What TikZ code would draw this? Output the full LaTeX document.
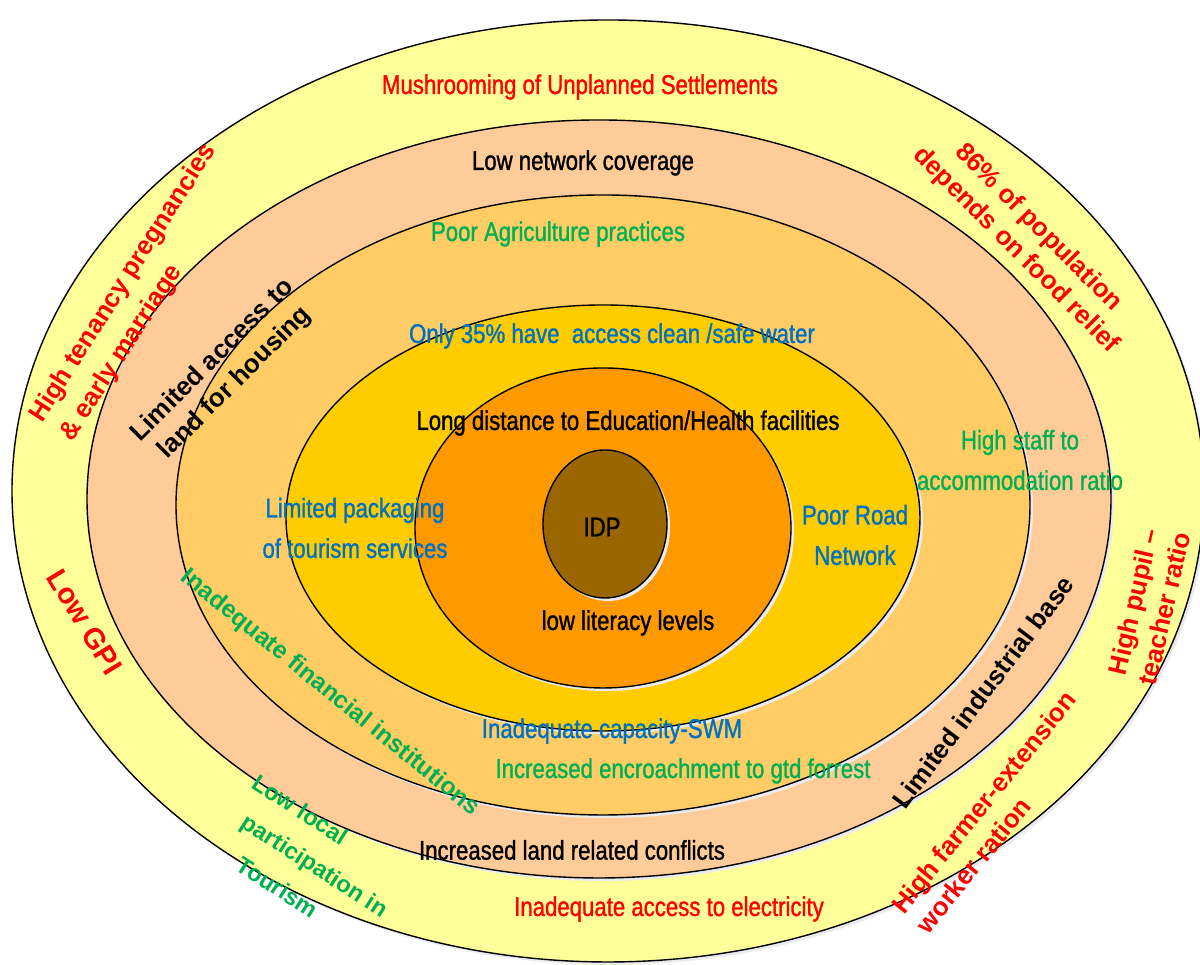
\documentclass[tikz,border=0pt]{standalone}
\usepackage{fontspec}
\setmainfont{Liberation Sans}
\newfontfamily\narrowfont[FakeStretch=0.82,FakeBold=1.2]{Liberation Sans}
\definecolor{bandyellow}{HTML}{FFFF99}
\definecolor{bandpeach}{HTML}{FFCC99}
\definecolor{bandlight}{HTML}{FFCC66}
\definecolor{bandgold}{HTML}{FFCC00}
\definecolor{bandorange}{HTML}{FF9900}
\definecolor{idpbrown}{HTML}{996600}
\definecolor{txtred}{HTML}{FF0000}
\definecolor{txtgreen}{HTML}{00B050}
\definecolor{txtblue}{HTML}{0070C0}

\begin{document}
\begin{tikzpicture}
\tikzstyle{ring}=[draw=black,line width=0.4pt]
\tikzstyle{ringshadow}=[fill=black!8]
\tikzstyle{flat}=[font=\narrowfont\fontsize{7.7}{11.5}\selectfont,align=center,inner sep=0pt]
\tikzstyle{tilted}=[font=\bfseries\fontsize{7.4}{9}\selectfont,align=center,inner sep=0pt]
\clip (0,0) rectangle (12.00,9.65);
\fill [white] (0,0) rectangle (12.00,9.65);
% rings, outside in
\fill [ringshadow] (6.11,4.71) ellipse (5.96 and 4.71);
\filldraw [ring,fill=bandyellow] (6.08,4.74) ellipse (5.96 and 4.71);
\fill [ringshadow] (6.02,4.63) ellipse (5.12 and 3.79);
\filldraw [ring,fill=bandpeach] (5.99,4.66) ellipse (5.12 and 3.79);
\fill [ringshadow] (6.06,4.57) ellipse (4.27 and 3.10);
\filldraw [ring,fill=bandlight] (6.03,4.60) ellipse (4.27 and 3.10);
\fill [ringshadow] (6.06,4.44) ellipse (3.17 and 2.13);
\filldraw [ring,fill=bandgold] (6.03,4.47) ellipse (3.17 and 2.13);
\fill [ringshadow] (6.06,4.34) ellipse (1.88 and 1.60);
\filldraw [ring,fill=bandorange] (6.03,4.37) ellipse (1.88 and 1.60);
\fill [ringshadow] (6.08,4.38) ellipse (0.62 and 0.74);
\filldraw [ring,fill=idpbrown] (6.05,4.41) ellipse (0.62 and 0.74);
% labels
\node [flat,txtred] (a) at (5.80,8.78) {Mushrooming of Unplanned Settlements};
\node [flat] (b) at (5.83,8.02) {Low network coverage};
\node [flat,txtgreen] (c) at (5.58,7.31) {Poor Agriculture practices};
\node [flat,txtblue] (d) at (6.12,6.29) {Only 35\% have \ access clean /safe water};
\node [flat] (e) at (6.28,5.42) {Long distance to Education/Health facilities};
\node [flat] (f) at (6.02,4.38) {IDP};
\node [flat] (g) at (6.28,3.42) {low literacy levels};
\node [flat,txtblue] (h) at (3.55,4.37) {Limited packaging\\of tourism services};
\node [flat,txtblue] (i) at (8.55,4.30) {Poor Road\\Network};
\node [flat,txtgreen] (j) at (10.20,5.05) {High staff to\\accommodation ratio};
\node [flat,txtblue] (k) at (6.12,2.34) {Inadequate capacity-SWM};
\node [flat,txtgreen] (l) at (6.83,1.94) {Increased encroachment to gtd forrest};
\node [flat] (m) at (5.72,1.15) {Increased land related conflicts};
\node [flat,txtred] (n) at (6.69,0.56) {Inadequate access to electricity};
\node [tilted,txtred,align=left,font=\bfseries\fontsize{7.4}{10.3}\selectfont,rotate=57.5] (o) at (1.39,6.72) {High tenancy pregnancies\\\& early marriage};
\node [tilted,rotate=45] (p) at (2.24,5.93) {Limited access to\\land for housing};
\node [tilted,txtred,rotate=-45] (q) at (10.27,7.26) {86\% of population\\depends on food relief};
\node [tilted,txtred,rotate=77] (r) at (11.49,3.60) {High pupil –\\teacher ratio};
\node [tilted,txtred,align=left,rotate=51] (s) at (9.96,1.53) {High farmer-extension\\worker ration};
\node [tilted,rotate=53] (t) at (9.83,2.73) {Limited industrial base};
\node [tilted,txtred,font=\bfseries\fontsize{8.3}{9}\selectfont,rotate=-58.5] (u) at (0.85,3.43) {Low GPI};
\node [tilted,txtgreen,font=\bfseries\fontsize{7}{9}\selectfont,rotate=-39] (v) at (3.30,2.72) {Inadequate financial institutions};
\node [tilted,txtgreen,align=left,font=\bfseries\fontsize{6.7}{11}\selectfont,rotate=-33] (w) at (3.10,1.03) {Low local\\\hspace{3.5pt}participation in\\\hspace{9pt}Tourism};
\end{tikzpicture}
\end{document}
